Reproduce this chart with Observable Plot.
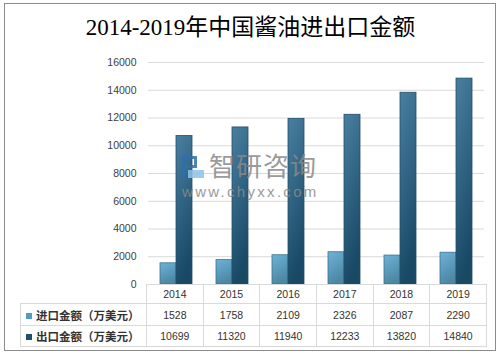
<!DOCTYPE html>
<html><head><meta charset="utf-8">
<script src="https://cdn.jsdelivr.net/npm/d3@7"></script>
<script src="https://cdn.jsdelivr.net/npm/@observablehq/plot@0.6"></script>
<style>
body{margin:0;background:#fff;width:501px;height:357px;overflow:hidden;position:relative;font-family:"Liberation Sans",sans-serif;}
#frame{position:absolute;left:4px;top:3px;width:492px;height:348px;border:1px solid #8c8c8c;box-sizing:border-box;}
#title{position:absolute;left:0;width:501px;top:14px;text-align:center;font:23px "Liberation Serif","Noto Sans CJK SC",serif;color:#000;line-height:28px;white-space:nowrap;}
#chart{position:absolute;left:0;top:50px;}
#tbl{position:absolute;left:20px;top:284px;border-collapse:collapse;table-layout:fixed;font-size:10.5px;color:#333;}
#tbl td{border:1px solid #d9d9d9;text-align:center;padding:0;white-space:nowrap;}
#tbl td.blank{border:none;}
#tbl td.lab{text-align:left;padding-left:5px;font-family:"Noto Sans CJK SC",sans-serif;font-size:11.5px;font-weight:bold;color:#333;}
.key{display:inline-block;width:6px;height:6px;margin-right:4px;vertical-align:1px;}
#wm1{position:absolute;left:209px;top:152px;font:26px "Noto Sans CJK SC",sans-serif;color:#8a8a8a;opacity:.85;line-height:26px;letter-spacing:1px;}
#wm2{position:absolute;left:182px;top:184px;font:15px "Liberation Sans",sans-serif;color:#8a8a8a;opacity:.85;letter-spacing:2.3px;line-height:15px;}
#logo{position:absolute;left:182px;top:156px;width:22px;height:22px;opacity:.85;}
#logo .a{position:absolute;left:0;top:0;width:15px;height:12px;border:3px solid #2f6fa8;box-sizing:border-box;}
#logo .b{position:absolute;left:0;top:12px;width:3px;height:10px;background:#2f6fa8;}
#logo .c{position:absolute;left:6px;top:14px;width:16px;height:8px;background:#8cc3ea;}
</style></head>
<body>
<div id="frame"></div>
<div id="title">2014-2019年中国酱油进出口金额</div>
<div id="chart"></div>
<table id="tbl"></table>
<div id="logo"><div class="a"></div><div class="b"></div><div class="c"></div></div>
<div id="wm1">智研咨询</div>
<div id="wm2">www.chyxx.com</div>
<script>
const years = ["2014","2015","2016","2017","2018","2019"];
const importVals = [1528,1758,2109,2326,2087,2290];
const exportVals = [10699,11320,11940,12233,13820,14840];
const seriesNames = ["进口金额（万美元）","出口金额（万美元）"];
const yTicks = [0,2000,4000,6000,8000,10000,12000,14000,16000];
const keyColors = ["#4f9cc4","#1f4f6e"];

const data = years.flatMap((y,i)=>[
  {year:y, series:seriesNames[0], value:importVals[i]},
  {year:y, series:seriesNames[1], value:exportVals[i]}
]);

const W = 501, H = 240, mL = 146, mR = 15, mT = 12, mB = 6;
const plot = Plot.plot({
  width: W, height: H, marginTop: mT, marginBottom: mB, marginLeft: mL, marginRight: mR,
  style: {fontFamily: "Liberation Sans", fontSize: "10.5px", color: "#404040", background: "transparent"},
  fx: {domain: years, padding: 0, axis: null},
  x: {domain: seriesNames, paddingInner: 0, paddingOuter: 0.667, axis: null},
  y: {domain: [0, 16000]},
  marks: [
    Plot.gridY(yTicks, {stroke: "#d9d9d9", strokeOpacity: 1}),
    Plot.axisY(yTicks, {tickSize: 0, tickPadding: 12, label: null, fill: "#404040", tickFormat: d => String(d)}),
    Plot.barY(data.filter(d => d.series === seriesNames[0]), {fx: "year", x: "series", y: "value", fill: "url(#gImp)", stroke: "#3b7291", strokeWidth: 0.8}),
    Plot.barY(data.filter(d => d.series === seriesNames[1]), {fx: "year", x: "series", y: "value", fill: "url(#gExp)", stroke: "#244f69", strokeWidth: 0.8})
  ]
});
const defs = d3.select(plot).insert("defs", ":first-child");
const g1 = defs.append("linearGradient").attr("id","gImp").attr("x1",0).attr("y1",0).attr("x2",0.35).attr("y2",1);
g1.append("stop").attr("offset","0%").attr("stop-color","#6db3d8");
g1.append("stop").attr("offset","100%").attr("stop-color","#4d87a3");
const g2 = defs.append("linearGradient").attr("id","gExp").attr("x1",0).attr("y1",0).attr("x2",0.25).attr("y2",1);
g2.append("stop").attr("offset","0%").attr("stop-color","#4a7fa1");
g2.append("stop").attr("offset","100%").attr("stop-color","#184a66");
document.getElementById("chart").appendChild(plot);

// data table aligned with the fx band
const colW = (W - mL - mR) / years.length;
const tbl = d3.select("#tbl");
const cg = tbl.append("colgroup");
cg.append("col").style("width", (mL - 20) + "px");
years.forEach(() => cg.append("col").style("width", colW + "px"));
const r0 = tbl.append("tr").style("height", "19px");
r0.append("td").attr("class","blank");
years.forEach(y => r0.append("td").text(y));
[importVals, exportVals].forEach((vals, k) => {
  const r = tbl.append("tr").style("height", k === 0 ? "22px" : "21px");
  const td = r.append("td").attr("class","lab");
  td.append("span").attr("class","key").style("background", keyColors[k]);
  td.append("span").text(seriesNames[k]);
  vals.forEach(v => r.append("td").text(v));
});
</script>
</body></html>
